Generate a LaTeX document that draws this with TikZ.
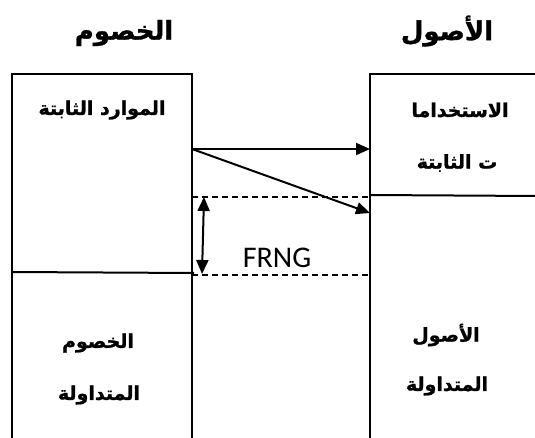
\documentclass[tikz,border=0pt]{standalone}
\usepackage{fontspec}
\setmainfont{Carlito}
\newfontfamily\arabicfont[Script=Arabic,BoldFeatures={FakeBold=1.2}]{DejaVu Sans}
\TeXXeTstate=1
\usetikzlibrary{arrows.meta}
\begin{document}
\begin{tikzpicture}[x=1pt,y=-1pt,
  frame/.style={line width=2pt},
  guide/.style={line width=1.4pt,dash pattern=on 6pt off 4pt},
  flow/.style={line width=2pt,-{Triangle[length=14pt,width=12pt]}},
  span/.style={line width=2pt,{Triangle[length=14pt,width=12pt]}-{Triangle[length=14pt,width=12pt]}},
  title/.style={font=\arabicfont\bfseries\fontsize{26}{30}\selectfont},
  label/.style={font=\arabicfont\bfseries\fontsize{19}{22}\selectfont}]
\useasboundingbox (0,0) rectangle (535,438);
\fill[white] (0,0) rectangle (535,438);

% column headings
\node[title] (hL) at (124,33) {\beginR الخصوم\endR};
\node[title] (hA) at (447,31) {\beginR الأصول\endR};

% liabilities column
\draw[frame] (12,440) -- (12,74) -- (192,74) -- (192,440);
\draw[frame] (12,272) -- (194,273);
% assets column
\draw[frame] (370,440) -- (370,74) -- (537,74);
\draw[frame] (370,195) -- (537,196);

% working-capital band
\coordinate (gTopL) at (192,197);
\coordinate (gTopR) at (370,197);
\coordinate (gBotL) at (192,275);
\coordinate (gBotR) at (370,275);
\draw[guide] (gTopL) -- (gTopR);
\draw[guide] (gBotL) -- (gBotR);

% flows from fixed resources
\coordinate (src) at (192,149);
\coordinate (dst1) at (370,149);
\coordinate (dst2) at (370,213);
\draw[flow] (src) -- (dst1);
\draw[flow] (src) -- (dst2);

\coordinate (sTop) at (204,197);
\coordinate (sBot) at (202,274);
\draw[span] (sTop) -- (sBot);
\node[font=\fontsize{30}{34}\selectfont] (frng) at (277,258) {FRNG};

% box labels
\node[label] (fixres) at (102,110) {\beginR الموارد الثابتة\endR};
\node[label] (fixuse1) at (460,110) {\beginR الاستخداما\endR};
\node[label] (fixuse2) at (457,163) {\beginR ت الثابتة\endR};
\node[label] (curL1) at (98,343) {\beginR الخصوم\endR};
\node[label] (curL2) at (99,395) {\beginR المتداولة\endR};
\node[label] (curA1) at (446,335) {\beginR الأصول\endR};
\node[label] (curA2) at (447,386) {\beginR المتداولة\endR};
\end{tikzpicture}
\end{document}
